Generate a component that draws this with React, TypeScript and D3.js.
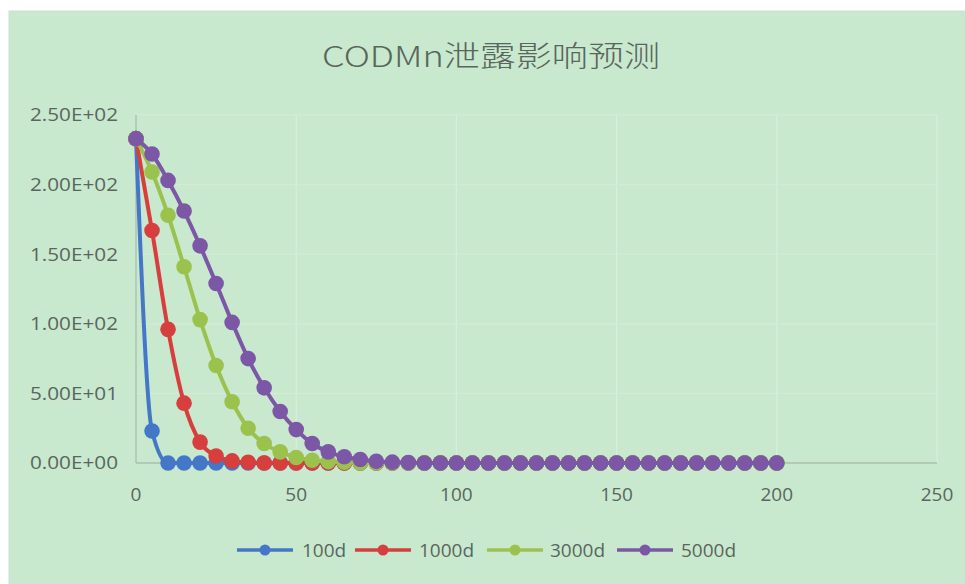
import React from "react";
import * as d3 from "d3";

const distances = [0,5,10,15,20,25,30,35,40,45,50,55,60,65,70,75,80,85,90,95,100,105,110,115,120,125,130,135,140,145,150,155,160,165,170,175,180,185,190,195,200];
const s100d = [233,23,0,0,0,0,0,0,0,0,0,0,0,0,0,0,0,0,0,0,0,0,0,0,0,0,0,0,0,0,0,0,0,0,0,0,0,0,0,0,0];
const s1000d = [233,167,96,43,15,5,1.5,0.5,0,0,0,0,0,0,0,0,0,0,0,0,0,0,0,0,0,0,0,0,0,0,0,0,0,0,0,0,0,0,0,0,0];
const s3000d = [233,209,178,141,103,70,44,25,14,8,4,2,1,0.5,0,0,0,0,0,0,0,0,0,0,0,0,0,0,0,0,0,0,0,0,0,0,0,0,0,0,0];
const s5000d = [233,222,203,181,156,129,101,75,54,37,24,14,8,4.5,2.5,1.2,0.6,0.3,0,0,0,0,0,0,0,0,0,0,0,0,0,0,0,0,0,0,0,0,0,0,0];
const seriesNames = ["100d", "1000d", "3000d", "5000d"];
const seriesValues = [s100d, s1000d, s3000d, s5000d];
const seriesColors = ["#4577c8", "#d63f3d", "#9cc24e", "#7b57a6"];
const xTicks = [0, 50, 100, 150, 200, 250];
const yTicks = [0, 50, 100, 150, 200, 250];
const title = "CODMn泄露影响预测";

const W = 965;
const H = 584;

function sci(v: number): string {
  const s = d3.format(".2e")(v);
  const [m, e] = s.split("e");
  const sign = e[0] === "-" ? "-" : "+";
  const digits = e.replace(/[+-]/, "").padStart(2, "0");
  return `${m}E${sign}${digits}`;
}

export default function App() {
  const x = d3.scaleLinear().domain([0, 250]).range([136, 937]);
  const y = d3.scaleLinear().domain([0, 250]).range([463, 115]);
  const line = d3
    .line<number>()
    .x((_, i) => x(distances[i]))
    .y((d) => y(d))
    .curve(d3.curveMonotoneX);

  const textColor = "#5a665d";
  const font = "'Open Sans', 'Noto Sans', 'DejaVu Sans', sans-serif";
  const legendItems = [
    { lx: 237, tx: 302 },
    { lx: 355, tx: 419 },
    { lx: 487, tx: 550 },
    { lx: 617, tx: 681 },
  ];

  return (
    <svg
      width={W}
      height={H}
      style={{ position: "absolute", left: 0, top: 0, display: "block" }}
    >
      <rect x={0} y={0} width={W} height={H} fill="#ffffff" />
      <rect x={9} y={11} width={W - 9} height={H - 11} fill="#c9e9cf" stroke="#d6dcd6" strokeWidth={1} />

      {xTicks.slice(1).map((t) => (
        <line key={"gx" + t} x1={x(t)} x2={x(t)} y1={y(250)} y2={y(0)} stroke="#d8efdb" strokeWidth={1.2} />
      ))}
      {yTicks.slice(1).map((t) => (
        <line key={"gy" + t} x1={x(0)} x2={x(250)} y1={y(t)} y2={y(t)} stroke="#d3ecd6" strokeWidth={1} />
      ))}

      <line x1={x(0)} x2={x(250)} y1={y(0)} y2={y(0)} stroke="#a9bfab" strokeWidth={1.3} />
      <line x1={x(0)} x2={x(0)} y1={y(250)} y2={y(0)} stroke="#a9bfab" strokeWidth={1.3} />

      <text
        x={491}
        y={67}
        textAnchor="middle"
        fontSize={29}
        fontWeight={300}
        fill={textColor}
        fontFamily="'Noto Sans CJK SC', 'Open Sans', sans-serif"
        textLength={338}
        lengthAdjust="spacingAndGlyphs"
      >
        {title}
      </text>

      {yTicks.map((t) => (
        <text
          key={"yl" + t}
          x={118}
          y={y(t)}
          dy="0.35em"
          textAnchor="end"
          fontSize={18}
          fill={textColor}
          fontFamily={font}
          textLength={88}
          lengthAdjust="spacingAndGlyphs"
        >
          {sci(t)}
        </text>
      ))}

      {xTicks.map((t) => (
        <text
          key={"xl" + t}
          x={x(t)}
          y={494}
          dy="0.35em"
          textAnchor="middle"
          fontSize={19}
          fill={textColor}
          fontFamily={font}
        >
          {t}
        </text>
      ))}

      {seriesValues.map((vals, si) => (
        <g key={"s" + si}>
          <path d={line(vals) || ""} fill="none" stroke={seriesColors[si]} strokeWidth={4} strokeLinejoin="round" />
          {vals.map((v, i) => (
            <circle key={i} cx={x(distances[i])} cy={y(v)} r={7.8} fill={seriesColors[si]} />
          ))}
        </g>
      ))}

      {seriesNames.map((name, si) => (
        <g key={"lg" + si}>
          <line
            x1={legendItems[si].lx}
            x2={legendItems[si].lx + 56}
            y1={550}
            y2={550}
            stroke={seriesColors[si]}
            strokeWidth={3.5}
          />
          <circle cx={legendItems[si].lx + 28} cy={550} r={5.5} fill={seriesColors[si]} />
          <text
            x={legendItems[si].tx}
            y={550}
            dy="0.35em"
            fontSize={19}
            fill={textColor}
            fontFamily={font}
          >
            {name}
          </text>
        </g>
      ))}
    </svg>
  );
}
